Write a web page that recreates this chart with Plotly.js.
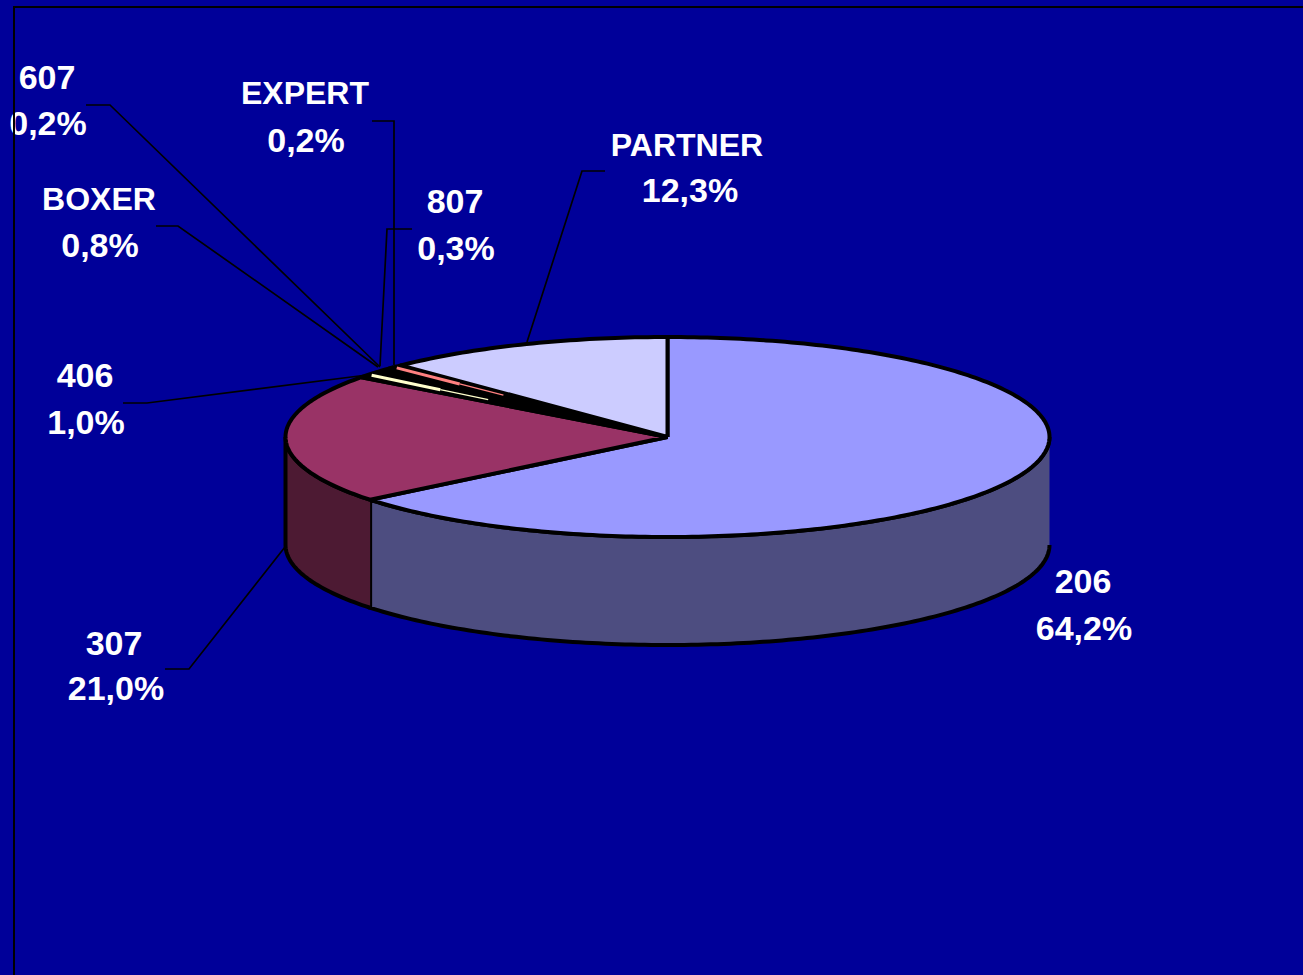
<!DOCTYPE html>
<html><head><meta charset="utf-8">
<script src="https://cdn.plot.ly/plotly-3.0.1.min.js"></script>
<style>html,body{margin:0;padding:0;background:#000099;overflow:hidden}</style>
</head><body><div id="chart" style="width:1303px;height:975px"></div>
<script>
// Data
const categories = ['206','307','406','BOXER','607','EXPERT','807','PARTNER'];
const shares = [64.2,21.0,1.0,0.8,0.2,0.2,0.3,12.3];
const topColors = ['#9999FF','#993366','#000000','#000000','#000000','#000000','#000000','#CCCCFF'];
const sideColors = ['#4D4D80','#4D1A33','#000000','#000000','#000000','#000000','#000000','#666680'];
const sliverColors = [null,null,'#FFFFCC',null,null,'#FF8080',null,null];

// Drawing geometry of the tilted disc (in page-pixel axis units)
const cx=667.5, cy=437, rx=382, ry=100, depth=108;
const nameX=[1083,114,85,99,47,305,455,687], nameY=[584,646,378,202,80,96,204,148];
const pctX=[1084,116,86,100,48,306,456,690], pctY=[631,691,425,248,126,143,251,193];
const nameSizes=[34,34,34,32,34,32,34,32];
const leaders=[
 null,
 [[165,669],[189,669],[285,547]],
 [[123,403],[147,403],[367,375]],
 [[156,226],[178,226],[378,367]],
 [[86,105],[110,105],[380,367]],
 [[372,121],[394,121],[394,365]],
 [[412,229],[387,229],[380,366]],
 [[605,171],[582,171],[527,342]]
];

const px=(deg,dz=0,t=1)=>[cx+rx*t*Math.sin(deg*Math.PI/180), cy-ry*t*Math.cos(deg*Math.PI/180)+dz];
function arc(a,b,dz=0){const o=[];const n=Math.max(1,Math.ceil(Math.abs(b-a)));for(let i=0;i<=n;i++)o.push(px(a+(b-a)*i/n,dz));return o;}
const poly=(pts,fill,w=4)=>({type:'scatter',mode:'lines',x:pts.map(p=>p[0]),y:pts.map(p=>p[1]),fill:'toself',fillcolor:fill,line:{color:'#000',width:w,simplify:false},hoverinfo:'skip'});
const seg=(pts,color,w)=>({type:'scatter',mode:'lines',x:pts.map(p=>p[0]),y:pts.map(p=>p[1]),line:{color,width:w,simplify:false},hoverinfo:'skip'});

const traces=[];
let edges=[0];
shares.forEach(s=>edges.push(edges[edges.length-1]+s*3.6));
// walls on the front half
shares.forEach((s,i)=>{
  const a=Math.max(edges[i],90), b=Math.min(edges[i+1],270);
  if(b>a) traces.push(poly(arc(a,b).concat(arc(b,a,depth)),sideColors[i]));
});
// top faces
shares.forEach((s,i)=>traces.push(poly([[cx,cy]].concat(arc(edges[i],edges[i+1]),[[cx,cy]]),topColors[i])));
// slivers thin enough to be swallowed by their outline
shares.forEach((s,i)=>{
  if(!sliverColors[i])return;
  const m=(edges[i]+edges[i+1])/2;
  traces.push(seg([px(m,0,0.99),px(m,0,0.76)],sliverColors[i],3));
  traces.push(seg([px(m,0,0.76),px(m,0,0.6)],sliverColors[i],1.2));
});
// labels
const fmt=v=>v.toFixed(1).replace('.',',')+'%';
const font=(size)=>({family:'"Liberation Sans",Arial,sans-serif',size,color:'#fff',weight:700});
traces.push({type:'scatter',mode:'text',x:nameX,y:nameY,text:categories,textposition:'middle center',textfont:font(nameSizes),hoverinfo:'skip'});
traces.push({type:'scatter',mode:'text',x:pctX,y:pctY,text:shares.map(fmt),textposition:'middle center',textfont:font(34),hoverinfo:'skip'});
// leaders
leaders.forEach(l=>{if(l)traces.push(seg(l,'#000',1.7));});
// plot frame
traces.push(seg([[14,975],[14,7],[1303,7]],'#000',2));

const layout={width:1303,height:975,margin:{l:0,r:0,t:0,b:0},paper_bgcolor:'#000099',plot_bgcolor:'#000099',showlegend:false,hovermode:false,
 xaxis:{visible:false,range:[0,1303],fixedrange:true},yaxis:{visible:false,range:[975,0],fixedrange:true}};
Plotly.newPlot('chart',traces,layout,{displayModeBar:false,staticPlot:true});
</script></body></html>
